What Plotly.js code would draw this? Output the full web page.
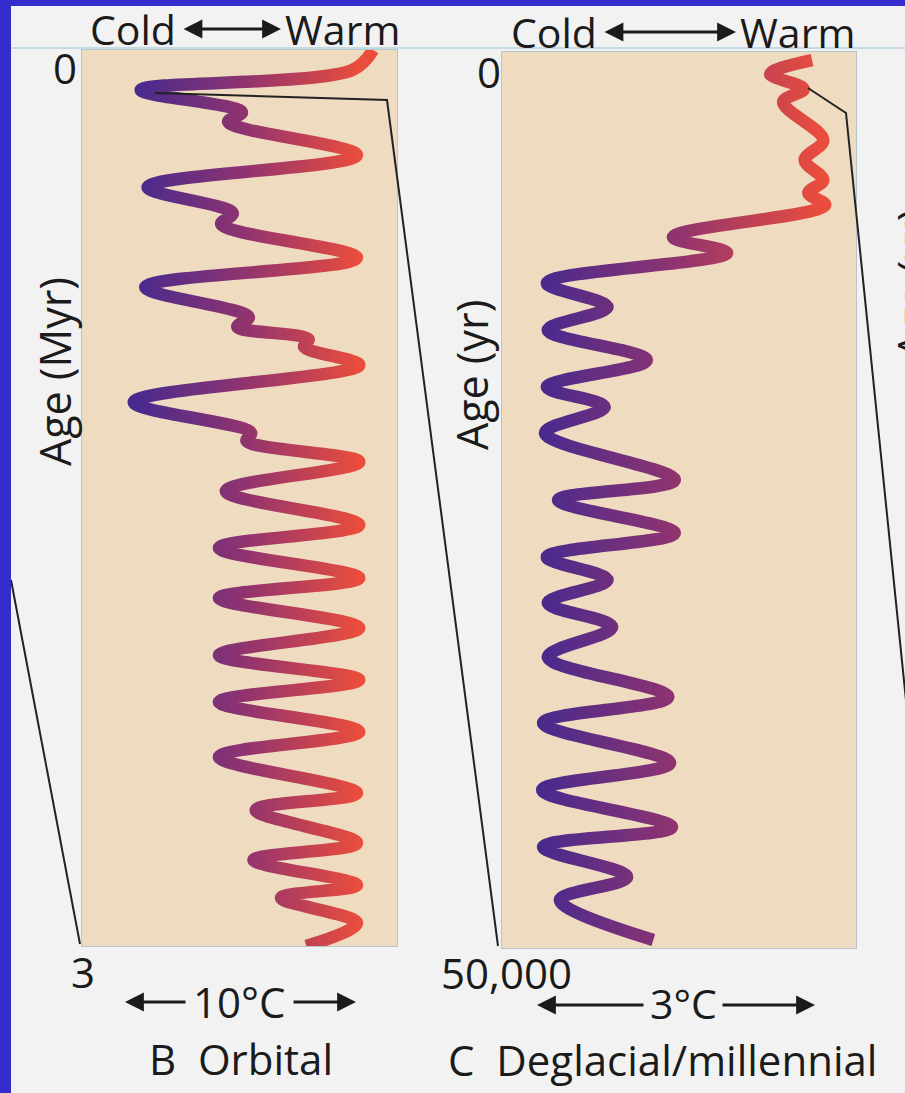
<!DOCTYPE html>
<html>
<head>
<meta charset="utf-8">
<script src="https://cdn.plot.ly/plotly-3.0.1.min.js"></script>
<style>
  html, body { margin: 0; padding: 0; background: #f2f2f2; }
  #chart { width: 905px; height: 1093px; }
</style>
</head>
<body>
<div id="chart"></div>
<script>
// ---------------- data ----------------
// Panel B (orbital): age in Myr, temperature relative to present in °C
const orbitalAgeMyr = [0, 0.067, 0.134, 0.208, 0.241, 0.352, 0.459, 0.546, 0.583, 0.696,
  0.794, 0.894, 0.927, 0.968, 0.994, 1.055, 1.179, 1.282, 1.309, 1.379,
  1.477, 1.590, 1.667, 1.768, 1.835, 1.935, 2.026, 2.109, 2.183, 2.283,
  2.367, 2.488, 2.545, 2.655, 2.712, 2.796, 2.839, 2.923, 3.0];
const orbitalTempC = [0, -0.9, -10.1, -5.7, -6.3, -0.7, -9.8, -6.1, -6.6, -0.7,
  -9.9, -5.4, -5.9, -2.8, -3.0, -0.6, -10.4, -5.3, -5.5, -0.6,
  -6.4, -0.6, -6.7, -0.6, -6.7, -0.6, -6.7, -0.6, -6.7, -0.6,
  -6.7, -0.7, -5.1, -0.7, -5.2, -0.7, -4.0, -0.7, -2.9];

// Panel C (deglacial / millennial): age in years, temperature relative to present in °C
const deglacialAgeYr = [450, 1230, 2070, 2790, 4910, 6030, 7140, 7870, 8540, 10320,
  11220, 12890, 14230, 15510, 17190, 18690, 19810, 21260, 23880, 25000,
  26840, 28180, 29460, 30750, 32090, 33760, 35990, 37440, 39670, 41180,
  43250, 44360, 46040, 47320, 49550];
const deglacialTempC = [0.00, -0.45, -0.09, -0.31, 0.12, -0.08, 0.12, -0.04, 0.14, -1.49,
  -0.91, -2.84, -2.19, -2.83, -1.77, -2.84, -2.22, -2.86, -1.47, -2.72,
  -1.47, -2.84, -2.19, -2.83, -2.14, -2.83, -1.54, -2.88, -1.52, -2.89,
  -1.50, -2.88, -1.98, -2.70, -1.70];

// tick labels
const orbitalAgeTicks = [0, 3];
const orbitalAgeTickText = ['0', '3'];
const deglacialAgeTicks = [0, 50000];
const deglacialAgeTickText = ['0', '50,000'];

const panelTitles = ['B  Orbital', 'C  Deglacial/millennial'];
const scaleLabels = ['10°C', '3°C'];
const ageTitles = ['Age (Myr)', 'Age (yr)'];

// ---------------- layout helpers ----------------
const W = 905, H = 1093;
const FONT = 'Open Sans, Lato, sans-serif';
const INK = '#1b1b1b';
const fx = p => p / W;
const fy = p => 1 - p / H;

function label(text, x, y, size, extra) {
  return Object.assign({
    text: text, x: fx(x), y: fy(y), xref: 'paper', yref: 'paper',
    showarrow: false, xanchor: 'center', yanchor: 'middle',
    font: { family: FONT, size: size, color: INK }
  }, extra || {});
}
function arrow(xTip, yTip, dx, both) {
  const a = {
    text: '', x: fx(xTip), y: fy(yTip), xref: 'paper', yref: 'paper',
    ax: dx, ay: 0, axref: 'pixel', ayref: 'pixel', showarrow: true,
    arrowhead: 2, arrowsize: 1.35, arrowwidth: 2.8, arrowcolor: INK, standoff: 0
  };
  if (both) { a.arrowside = 'end+start'; a.startarrowhead = 2; a.startarrowsize = 1.35; a.startstandoff = 0; }
  return a;
}

const lineStyle = { shape: 'spline', smoothing: 1, width: 12.5, color: '#9a3a80', simplify: false };

const data = [
  { type: 'scatter', mode: 'lines', x: orbitalTempC, y: orbitalAgeMyr, xaxis: 'x', yaxis: 'y',
    line: lineStyle, hoverinfo: 'skip' },
  { type: 'scatter', mode: 'lines', x: deglacialTempC, y: deglacialAgeYr, xaxis: 'x2', yaxis: 'y2',
    line: lineStyle, hoverinfo: 'skip' }
];

const axBase = { showgrid: false, zeroline: false, showticklabels: false, ticks: '',
  showline: true, mirror: true, linecolor: '#b3c7cc', linewidth: 1, fixedrange: true };

const layout = {
  width: W, height: H,
  margin: { l: 0, r: 0, t: 0, b: 0 },
  paper_bgcolor: '#f2f2f2',
  plot_bgcolor: '#efdbbf',
  showlegend: false,
  xaxis: Object.assign({}, axBase, { domain: [fx(82), fx(397)], range: [-12.65, 1.04], anchor: 'y' }),
  yaxis: Object.assign({}, axBase, { domain: [fy(946), fy(50)], range: [3, 0], anchor: 'x' }),
  xaxis2: Object.assign({}, axBase, { domain: [fx(502), fx(856)], range: [-3.32, 0.47], anchor: 'y2' }),
  yaxis2: Object.assign({}, axBase, { domain: [fy(948), fy(52)], range: [50000, 0], anchor: 'x2' }),
  shapes: [
    // thin rule under the header
    { type: 'line', xref: 'paper', yref: 'paper', x0: fx(11), x1: 1, y0: fy(48), y1: fy(48),
      line: { color: '#b7d2e2', width: 1.5 }, layer: 'below' },
    // connector lines
    { type: 'path', xref: 'paper', yref: 'paper', layer: 'above',
      path: `M ${fx(155)},${fy(93)} L ${fx(387)},${fy(100)} L ${fx(498)},${fy(946)}`,
      line: { color: '#222', width: 2 } },
    { type: 'path', xref: 'paper', yref: 'paper', layer: 'above',
      path: `M ${fx(808)},${fy(88)} L ${fx(846)},${fy(113)} L ${fx(908)},${fy(720)}`,
      line: { color: '#222', width: 2 } },
    { type: 'line', xref: 'paper', yref: 'paper', layer: 'above',
      x0: fx(11), y0: fy(580), x1: fx(80), y1: fy(944), line: { color: '#222', width: 2 } },
    // blue frame
    { type: 'rect', xref: 'paper', yref: 'paper', layer: 'above', x0: 0, x1: fx(11), y0: 0, y1: 1,
      fillcolor: '#332dcc', line: { width: 0 } },
    { type: 'rect', xref: 'paper', yref: 'paper', layer: 'above', x0: 0, x1: 1, y0: fy(6), y1: 1,
      fillcolor: '#332dcc', line: { width: 0 } }
  ],
  annotations: [
    // header B
    label('Cold', 88, 29, 41, { xanchor: 'left' }),
    arrow(281, 29, -99, true),
    label('Warm', 283, 29, 41, { xanchor: 'left' }),
    // header C
    label('Cold', 509, 32, 41, { xanchor: 'left' }),
    arrow(736, 32, -133, true),
    label('Warm', 738, 32, 41, { xanchor: 'left' }),
    // age tick labels
    { text: orbitalAgeTickText[0], x: fx(79), xanchor: 'right', y: orbitalAgeTicks[0], yref: 'y',
      xref: 'paper', yanchor: 'middle', yshift: -18, showarrow: false, font: { family: FONT, size: 42, color: INK } },
    { text: orbitalAgeTickText[1], x: fx(83), xanchor: 'center', y: orbitalAgeTicks[1], yref: 'y',
      xref: 'paper', yanchor: 'middle', yshift: -25, showarrow: false, font: { family: FONT, size: 42, color: INK } },
    { text: deglacialAgeTickText[0], x: fx(503), xanchor: 'right', y: deglacialAgeTicks[0], yref: 'y2',
      xref: 'paper', yanchor: 'middle', yshift: -19, showarrow: false, font: { family: FONT, size: 42, color: INK } },
    { text: deglacialAgeTickText[1], x: fx(506), xanchor: 'center', y: deglacialAgeTicks[1], yref: 'y2',
      xref: 'paper', yanchor: 'middle', yshift: -24, showarrow: false, font: { family: FONT, size: 42, color: INK } },
    // age axis titles
    label(ageTitles[0], 55, 372, 43, { textangle: -90 }),
    label(ageTitles[1], 472, 375, 43, { textangle: -90 }),
    label(ageTitles[1], 912, 284, 43, { textangle: -90 }),
    // scale bars
    arrow(125, 1002, 62),
    label(scaleLabels[0], 239, 1001, 42),
    arrow(356, 1002, -64),
    arrow(537, 1005, 108),
    label(scaleLabels[1], 683, 1003, 41),
    arrow(815, 1005, -94),
    // panel titles
    label(panelTitles[0], 241, 1058, 42),
    label(panelTitles[1], 662, 1059, 42)
  ]
};

const gd = document.getElementById('chart');
Plotly.newPlot(gd, data, layout, { staticPlot: true, displayModeBar: false }).then(function () {
  const NS = 'http://www.w3.org/2000/svg';
  const svg = gd.querySelector('svg.main-svg');
  let defs = svg.querySelector('defs');
  if (!defs) { defs = document.createElementNS(NS, 'defs'); svg.insertBefore(defs, svg.firstChild); }
  const fl = gd._fullLayout;
  function addGrad(id, x1, x2) {
    const g = document.createElementNS(NS, 'linearGradient');
    g.setAttribute('id', id);
    g.setAttribute('gradientUnits', 'userSpaceOnUse');
    g.setAttribute('x1', x1); g.setAttribute('x2', x2);
    g.setAttribute('y1', 0); g.setAttribute('y2', 0);
    [[0, '#482a8e'], [0.5, '#93346e'], [1, '#ea4d3c']].forEach(function (s) {
      const st = document.createElementNS(NS, 'stop');
      st.setAttribute('offset', s[0]);
      st.setAttribute('stop-color', s[1]);
      g.appendChild(st);
    });
    defs.appendChild(g);
  }
  addGrad('gradOrbital', fl.xaxis.l2p(-10.2), fl.xaxis.l2p(-0.6));
  addGrad('gradDeglacial', fl.xaxis2.l2p(-2.9), fl.xaxis2.l2p(0.1));
  const paths = gd.querySelectorAll('.scatterlayer path.js-line');
  const ids = ['gradOrbital', 'gradDeglacial'];
  paths.forEach(function (p, i) {
    p.style.stroke = 'url(#' + ids[Math.min(i, 1)] + ')';
  });
});
</script>
</body>
</html>
